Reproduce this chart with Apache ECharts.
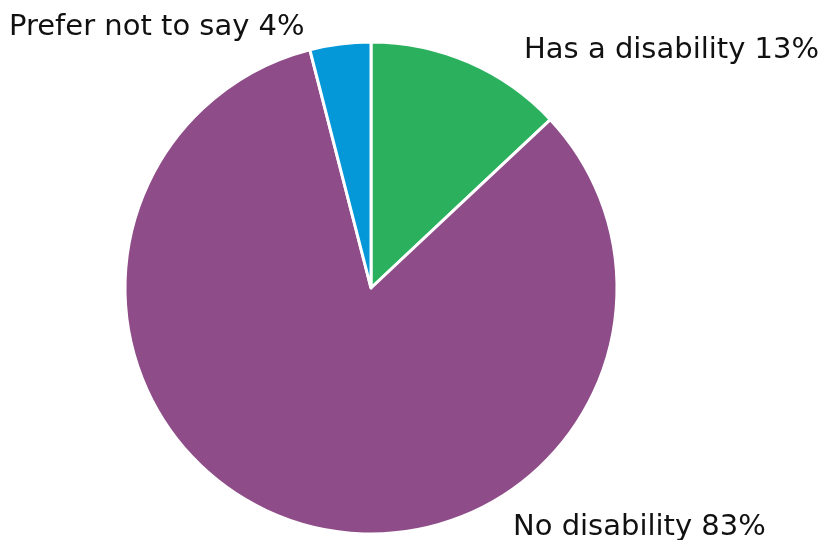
<!DOCTYPE html>
<html>
<head>
<meta charset="utf-8">
<script src="https://cdn.jsdelivr.net/npm/echarts@6/dist/echarts.min.js"></script>
<style>
  html, body { margin: 0; padding: 0; background: #ffffff; }
  #chart { width: 823px; height: 540px; }
</style>
</head>
<body>
<div id="chart"></div>
<script>
// Disability status of respondents (percent)
const categories = ['Has a disability', 'No disability', 'Prefer not to say'];
const shares = [13, 83, 4];
const colors = ['#2bb15e', '#8e4c88', '#0498d9'];

// Where each slice label sits (left edge x, vertical centre y)
const labelSpots = [
  { x: 524, y: 50 },
  { x: 513, y: 527 },
  { x: 9, y: 27 }
];

const chart = echarts.init(document.getElementById('chart'), null, { renderer: 'canvas' });

chart.setOption({
  animation: false,
  series: [{
    type: 'pie',
    center: [371, 288],
    radius: 246,
    startAngle: 90,
    clockwise: true,
    data: categories.map((name, i) => ({
      name: name,
      value: shares[i],
      itemStyle: { color: colors[i] }
    })),
    itemStyle: { borderColor: '#ffffff', borderWidth: 3 },
    label: {
      show: true,
      position: 'outside',
      formatter: p => p.name + ' ' + p.value + '%',
      fontFamily: 'DejaVu Sans',
      fontSize: 29,
      color: '#111111',
      overflow: 'none',
      width: 400
    },
    labelLine: { show: false },
    labelLayout: p => ({
      x: labelSpots[p.dataIndex].x,
      y: labelSpots[p.dataIndex].y,
      align: 'left',
      verticalAlign: 'middle',
      hideOverlap: false
    }),
    emphasis: { disabled: true }
  }]
});
</script>
</body>
</html>
